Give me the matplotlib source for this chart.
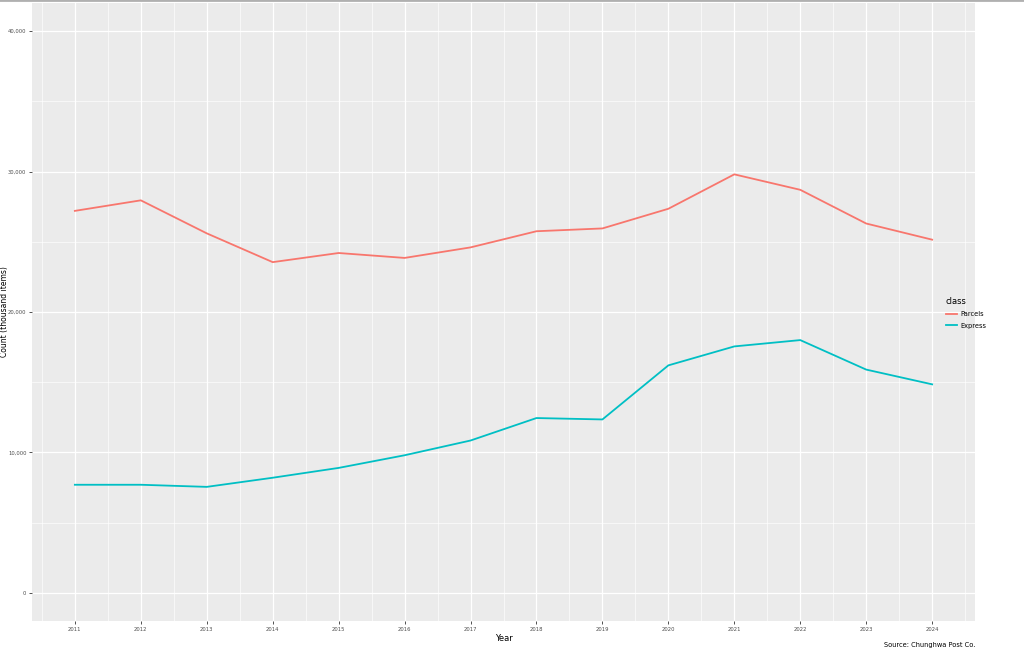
import matplotlib.pyplot as plt
from matplotlib.ticker import FuncFormatter, MultipleLocator
from matplotlib.lines import Line2D

# Data (thousand items)
years = list(range(2011, 2025))
parcels = [27200, 27950, 25600, 23550, 24200, 23850, 24600, 25750, 25950, 27350, 29800, 28700, 26300, 25150]
express = [7700, 7700, 7550, 8200, 8900, 9800, 10850, 12450, 12350, 16200, 17550, 18000, 15900, 14850]
classes = ["Parcels", "Express"]
colors = ["#F8766D", "#00BFC4"]

fig = plt.figure(figsize=(10.24, 6.51), dpi=100)
ax = fig.add_axes([32 / 1024, 1 - 621 / 651, (975 - 32) / 1024, (621 - 3) / 651])
ax.set_facecolor("#EBEBEB")

for name, vals, col in zip(classes, [parcels, express], colors):
    ax.plot(years, vals, color=col, lw=1.3, label=name, zorder=3)

ax.set_xlim(2011 - 0.65, 2024 + 0.65)
ax.set_ylim(-2000, 42000)
ax.set_xticks(years)
ax.xaxis.set_minor_locator(MultipleLocator(1, offset=0.5))
ax.yaxis.set_minor_locator(MultipleLocator(5000))
ax.set_yticks([0, 10000, 20000, 30000, 40000])
ax.yaxis.set_major_formatter(FuncFormatter(lambda v, p: f"{int(v):,}"))

ax.grid(which="major", color="white", lw=0.9, zorder=1)
ax.grid(which="minor", color="white", lw=0.45, zorder=1)
ax.set_axisbelow(True)
for s in ax.spines.values():
    s.set_visible(False)
ax.tick_params(which="major", length=2.5, width=0.6, color="#333333",
               labelsize=3.8, labelcolor="#4D4D4D", pad=1.5)
ax.tick_params(which="minor", length=0)

ax.set_xlabel("Year", fontsize=6, labelpad=2)
ax.set_ylabel("Count (thousand items)", fontsize=5.5)
ax.yaxis.set_label_coords(-0.0245, 0.5)

handles = [Line2D([], [], color=c, lw=1.3) for c in colors]
leg = fig.legend(handles, classes, title="class", loc="upper left",
                 bbox_to_anchor=(940 / 1024, 1 - 291 / 651), frameon=False,
                 fontsize=4.8, title_fontsize=6, handlelength=1.6,
                 handletextpad=0.6, labelspacing=0.8, alignment="left")

fig.text(975 / 1024, 1 - 645 / 651, "Source: Chunghwa Post Co.", ha="right",
         va="center", fontsize=4.8)

# thin gray bar along the top edge
fig.add_artist(Line2D([0, 1], [1, 1], transform=fig.transFigure,
                      color="#B0B0B0", lw=2))

fig.savefig("out.png", dpi=100)
